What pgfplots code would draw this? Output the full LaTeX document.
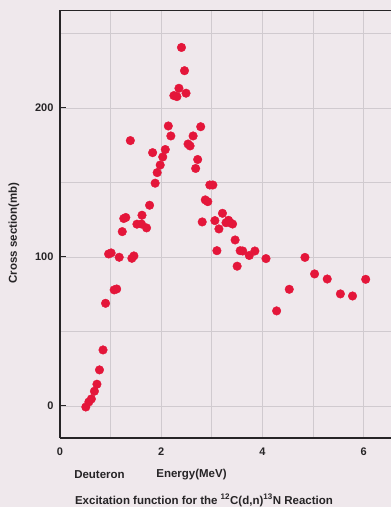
\documentclass[border=0pt]{standalone}
\usepackage{pgfplots}
\pgfplotsset{compat=1.18}
\usepackage{fontspec}
\setmainfont{Liberation Sans}
\definecolor{bg}{RGB}{239,232,236}
\definecolor{dot}{RGB}{228,22,58}
\definecolor{gridc}{RGB}{208,202,207}
\definecolor{ink}{RGB}{38,36,38}
\begin{document}
\begin{tikzpicture}[x=1pt,y=1pt]
\fill[bg] (0,0) rectangle (391,507);
\begin{axis}[
  at={(60pt,69pt)}, anchor=south west,
  scale only axis, width=331pt, height=427.5pt,
  xmin=0, xmax=6.54, ymin=-21.5, ymax=265.4,
  axis x line=box, axis y line=left,
  every outer x axis line/.style={ink, line width=1.3pt},
  every outer y axis line/.style={ink, line width=1.3pt},
  every inner x axis line/.style={ink, line width=1.3pt},
  every inner y axis line/.style={ink, line width=1.3pt},
  xtick={0,2,4,6}, ytick={0,100,200},
  minor xtick={1,3,5}, minor ytick={50,150,250},
  grid=both,
  major grid style={gridc, line width=0.7pt},
  minor grid style={gridc, line width=0.7pt},
  tick align=inside,
  xtick style={draw=none},
  ytick style={ink, line width=1pt},
  major tick length=6pt, minor tick length=0pt,
  /pgf/number format/assume math mode=true,
  tick label style={font=\bfseries\fontsize{11}{13}\selectfont, text=ink},
  xticklabel style={yshift=-6pt},
  yticklabel style={xshift=-3pt},
]
\addplot[only marks, mark=*, mark size=4.3pt, color=dot, mark options={fill=dot, draw=dot}] table {
x y
2.40 240.6
2.46 225.0
2.35 213.2
2.49 209.9
2.25 208.3
2.31 207.6
2.14 187.9
2.78 187.4
2.19 181.2
2.63 181.2
1.39 178.1
2.53 175.8
2.57 174.5
1.83 170.0
2.08 172.1
2.03 167.1
2.72 165.4
1.98 161.7
2.68 159.4
1.92 156.6
1.88 149.5
2.96 148.3
3.02 148.3
2.87 138.3
2.92 137.1
1.77 134.7
1.30 126.5
1.26 125.8
1.62 128.0
1.52 122.0
1.61 122.1
1.71 119.5
1.23 117.0
2.81 123.5
3.06 124.4
3.21 129.3
3.33 124.6
3.36 123.0
3.28 123.0
3.41 122.1
3.14 118.8
3.46 111.4
3.10 104.2
3.56 104.2
3.61 104.0
3.85 104.0
3.74 101.0
4.07 98.9
3.50 93.8
4.84 99.7
5.03 88.6
5.28 85.2
6.04 85.0
4.53 78.3
5.54 75.2
5.78 73.8
4.28 63.8
0.96 102.0
1.01 102.7
1.17 99.8
1.42 99.1
1.46 100.7
1.07 77.9
1.12 78.5
0.90 68.9
0.85 37.6
0.78 24.2
0.73 14.6
0.68 9.9
0.62 4.7
0.57 2.7
0.51 -0.7
};
\end{axis}
\node[rotate=90, font=\bfseries\fontsize{11.5}{13}\selectfont, text=ink] at (14,274) {Cross section(mb)};
\node[font=\bfseries\fontsize{11.5}{13}\selectfont, text=ink] at (99.5,32) {Deuteron};
\node[font=\bfseries\fontsize{11.5}{13}\selectfont, text=ink] at (191.5,32) {Energy(MeV)};
\node[font=\bfseries\fontsize{11.5}{13}\selectfont, text=ink] at (204,6.5) {Excitation function for the \textsuperscript{12}C(d,n)\textsuperscript{13}N Reaction};
\pgfresetboundingbox
\useasboundingbox (0,0) rectangle (391,507);
\end{tikzpicture}
\end{document}
